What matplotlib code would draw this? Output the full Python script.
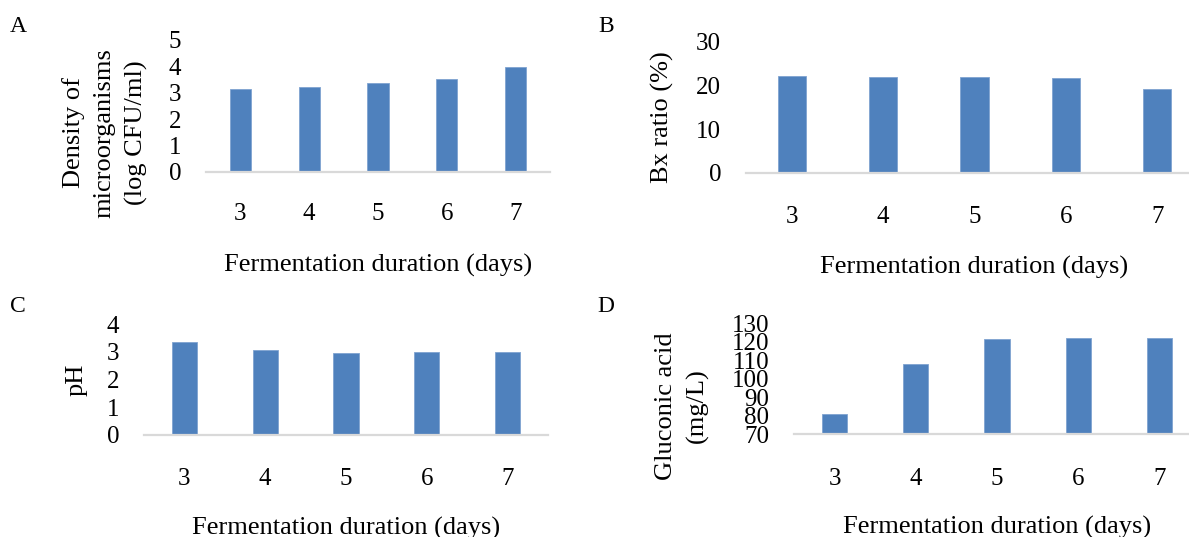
"""Fermentation panels: microorganism density, Brix, pH and gluconic acid."""

import matplotlib

matplotlib.use("Agg")
import matplotlib.pyplot as plt

plt.rcParams["font.family"] = ["Liberation Serif", "DejaVu Serif"]

W, H, DPI = 1189, 537, 100

days = ["3", "4", "5", "6", "7"]
density = [3.13, 3.22, 3.36, 3.52, 3.97]
brix = [22.1, 22.0, 21.9, 21.8, 19.3]
ph = [3.37, 3.07, 2.98, 2.99, 2.99]
gluconic = [80.8, 107.8, 121.4, 121.9, 121.9]

BAR_COLOR = "#4F81BD"
AXIS_COLOR = "#D9D9D9"
TICK_SIZE = 18
LABEL_SIZE = 19


def px_rect(left, right, top, bottom):
    """Convert a pixel box (origin top-left) into a figure-fraction rect."""
    return [left / W, 1 - bottom / H, (right - left) / W, (bottom - top) / H]


def fig_xy(x, y):
    return x / W, 1 - y / H


fig = plt.figure(figsize=(W / DPI, H / DPI), dpi=DPI)

panels = [
    # letter, values, ylim, yticks, axes box, ylabel, ylabel pos, tick y, xlabel y, letter pos
    ("A", density, (0, 5), range(0, 6), (206, 550, 40, 172),
     "Density of\nmicroorganisms\n(log CFU/ml)", (105, 133), 212, 265, (18, 26)),
    ("B", brix, (0, 30), range(0, 31, 10), (746, 1203, 42, 172.5),
     "Bx ratio (%)", (662, 117), 215, 267, (606, 26)),
    ("C", ph, (0, 4), range(0, 5), (144, 548, 324.5, 434.5),
     "pH", (77, 380), 477, 528, (18, 306)),
    ("D", gluconic, (70, 130), range(70, 131, 10), (794, 1200, 323, 434),
     "Gluconic acid\n(mg/L)", (682, 406), 477, 527, (606, 306)),
]

for letter, values, ylim, yticks, box, ylabel, ypos, tick_y, xlab_y, lpos in panels:
    left, right, top, bottom = box
    ax = fig.add_axes(px_rect(left, right, top, bottom))
    x = range(len(days))
    ax.bar(x, [v - ylim[0] for v in values], bottom=ylim[0], width=0.31,
           color=BAR_COLOR, edgecolor="#7FA3D0", linewidth=0.6, zorder=2)
    ax.set_xlim(-0.5, len(days) - 0.5)
    ax.set_ylim(*ylim)
    ax.set_yticks(list(yticks))
    ax.set_xticks(list(x))
    ax.set_xticklabels(days)

    for side in ("top", "right", "left"):
        ax.spines[side].set_visible(False)
    ax.spines["bottom"].set_color(AXIS_COLOR)
    ax.spines["bottom"].set_linewidth(1.6)
    ax.spines["bottom"].set_zorder(3)

    x_pad = (tick_y - bottom - 9) / (DPI / 72)
    ax.tick_params(axis="x", length=0, pad=x_pad, labelsize=TICK_SIZE)
    ax.tick_params(axis="y", length=0, pad=18, labelsize=TICK_SIZE)

    fig.text(*fig_xy(*ypos), ylabel, rotation=90, ha="center", va="center",
             multialignment="center", fontsize=LABEL_SIZE, linespacing=1.5)
    fig.text(*fig_xy((left + right) / 2, xlab_y), "Fermentation duration (days)",
             ha="center", va="center", fontsize=LABEL_SIZE)
    fig.text(*fig_xy(*lpos), letter, ha="center", va="center", fontsize=17)

fig.savefig("out.png", dpi=DPI)
